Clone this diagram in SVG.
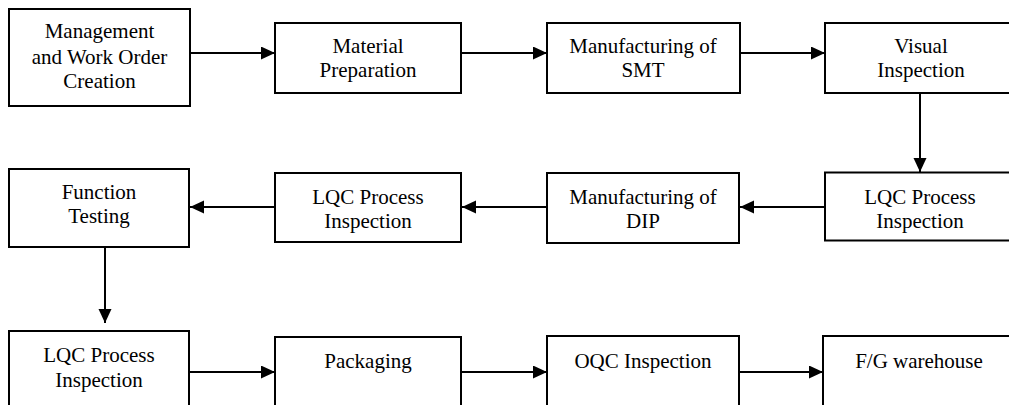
<svg xmlns="http://www.w3.org/2000/svg" width="1009" height="405" viewBox="0 0 1009 405">
<style>
.box{fill:#fff;stroke:#000;stroke-width:2}
.t{font-family:'Liberation Serif','Times New Roman',Times,serif;font-size:21px;fill:#000;text-anchor:middle}
.c{stroke:#000;stroke-width:2;fill:none;marker-end:url(#ah)}
</style>
<defs>
<marker id="ah" markerUnits="userSpaceOnUse" markerWidth="15" markerHeight="14" refX="14" refY="6.5" orient="auto">
<path d="M0,0 L14,6.5 L0,13 Z" fill="#000"/>
</marker>
</defs>
<rect width="1009" height="405" fill="#fff"/>
<g id="connectors">
<line class="c" x1="190" y1="53" x2="275" y2="53"/>
<line class="c" x1="461" y1="53" x2="547" y2="53"/>
<line class="c" x1="740" y1="53" x2="825" y2="53"/>
<line class="c" x1="920" y1="93" x2="920" y2="172"/>
<line class="c" x1="825" y1="207" x2="740" y2="207"/>
<line class="c" x1="547" y1="207" x2="462" y2="207"/>
<line class="c" x1="275" y1="207" x2="190" y2="207"/>
<line class="c" x1="105" y1="248" x2="105" y2="323"/>
<line class="c" x1="189" y1="372" x2="275" y2="372"/>
<line class="c" x1="461" y1="372" x2="547" y2="372"/>
<line class="c" x1="739" y1="372" x2="823" y2="372"/>
</g>
<g id="n1"><rect class="box" x="9" y="9" width="181" height="97"/>
<text class="t" font-family="Liberation Serif, serif" x="99.5" y="38">Management</text><text class="t" x="99.5" y="63.5">and Work Order</text><text class="t" x="99.5" y="88">Creation</text></g>
<g id="n2"><rect class="box" x="275" y="23" width="186" height="70"/>
<text class="t" x="368" y="53">Material</text><text class="t" x="368" y="77">Preparation</text></g>
<g id="n3"><rect class="box" x="547" y="23" width="193" height="70"/>
<text class="t" x="643" y="53">Manufacturing of</text><text class="t" x="643" y="77">SMT</text></g>
<g id="n4"><rect class="box" x="825" y="23" width="194" height="70"/>
<text class="t" x="921" y="53">Visual</text><text class="t" x="921" y="77">Inspection</text></g>
<g id="n5"><rect class="box" x="825" y="172.5" width="194" height="68"/>
<text class="t" x="920" y="204">LQC Process</text><text class="t" x="920" y="228">Inspection</text></g>
<g id="n6"><rect class="box" x="547" y="173" width="192" height="70"/>
<text class="t" x="643" y="204">Manufacturing of</text><text class="t" x="643" y="228">DIP</text></g>
<g id="n7"><rect class="box" x="275" y="173" width="186" height="69"/>
<text class="t" x="368" y="204">LQC Process</text><text class="t" x="368" y="228">Inspection</text></g>
<g id="n8"><rect class="box" x="9" y="169" width="180" height="78"/>
<text class="t" x="99" y="199">Function</text><text class="t" x="99" y="223">Testing</text></g>
<g id="n9"><rect class="box" x="9" y="331" width="180" height="100"/>
<text class="t" x="99" y="362">LQC Process</text><text class="t" x="99" y="387">Inspection</text></g>
<g id="n10"><rect class="box" x="275" y="337" width="186" height="100"/>
<text class="t" x="368" y="368">Packaging</text></g>
<g id="n11"><rect class="box" x="547" y="336" width="192" height="100"/>
<text class="t" x="643" y="368">OQC Inspection</text></g>
<g id="n12"><rect class="box" x="823" y="336" width="200" height="100"/>
<text class="t" x="919" y="368">F/G warehouse</text></g>
</svg>
